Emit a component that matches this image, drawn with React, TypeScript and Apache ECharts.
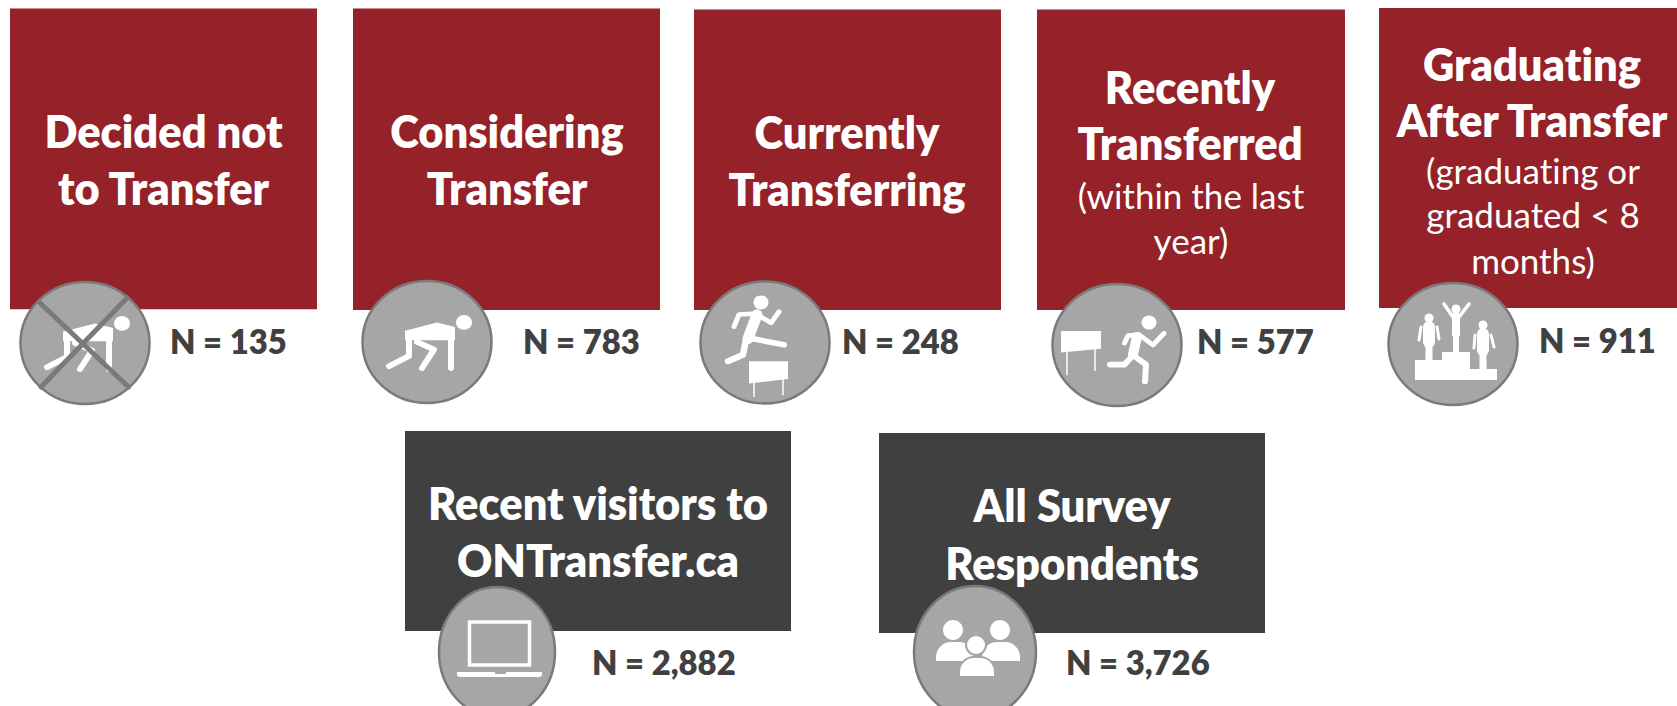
import React, { useEffect, useRef } from "react";
import * as echarts from "echarts";

// ---------- content ----------
const stageTitles: string[][] = [
  ["Decided not", "to Transfer"],
  ["Considering", "Transfer"],
  ["Currently", "Transferring"],
  ["Recently", "Transferred"],
  ["Graduating", "After Transfer"],
];
const stageNotes: string[][] = [[], [], [], ["(within the last", "year)"], ["(graduating or", "graduated < 8", "months)"]];
const stageCounts: string[] = ["N = 135", "N = 783", "N = 248", "N = 577", "N = 911"];
const groupTitles: string[][] = [
  ["Recent visitors to", "ONTransfer.ca"],
  ["All Survey", "Respondents"],
];
const groupCounts: string[] = ["N = 2,882", "N = 3,726"];

// ---------- layout ----------
const RED = "#952129";
const DARK = "#404040";
const CIRCLE = "#A6A6A6";
const RING = "#7A7A7A";
const FONT = "Lato";
const BOLD_SIZE = 45;
const NOTE_SIZE = 35;
const COUNT_SIZE = 34;
const SX_BOLD = 0.965;
const SX_NOTE = 1.0;

const stageBoxes = [
  { x: 10, y: 8.5, w: 307, h: 300.8 },
  { x: 353, y: 8.5, w: 307, h: 301.5 },
  { x: 694, y: 9.5, w: 307, h: 300.5 },
  { x: 1037, y: 9.5, w: 308, h: 300.5 },
  { x: 1379, y: 8, w: 298, h: 300 },
];
const stageCx = [163.6, 507, 847, 1190, 1532];
const titleYs = [
  [130.5, 187],
  [130.5, 187],
  [131, 188],
  [86, 142],
  [63, 119],
];
const noteYs = [[], [], [], [194.5, 240], [170, 214, 260]];
const discs = [
  { x: 85, y: 343, rx: 64.5, ry: 61 },
  { x: 427, y: 342, rx: 64.5, ry: 61 },
  { x: 765, y: 342.5, rx: 64.5, ry: 61 },
  { x: 1117, y: 345, rx: 64.5, ry: 61 },
  { x: 1453, y: 344, rx: 64.5, ry: 61 },
];
const iconScaleY = [0.933, 0.933, 0.933, 0.933, 1];
const countX = [170, 523, 842, 1197, 1539];
const countY = [341, 341, 341, 341, 340];

const groupBoxes = [
  { x: 405, y: 431, w: 386, h: 200 },
  { x: 879, y: 433, w: 386, h: 200 },
];
const groupCx = [598, 1072];
const groupYs = [
  [502, 559],
  [504, 562],
];
const ovals = [
  { x: 497, y: 652, rx: 58, ry: 65 },
  { x: 975, y: 652, rx: 61, ry: 66 },
];
const groupCountX = [592, 1066];
const groupCountY = [662, 662];

const W = "#FFFFFF";
const line = (points: number[][], lineWidth: number, stroke = W) => ({
  type: "polyline",
  shape: { points },
  style: { stroke, fill: "none", lineWidth, lineCap: "round", lineJoin: "round" },
});
const dot = (cx: number, cy: number, r: number) => ({ type: "circle", shape: { cx, cy, r }, style: { fill: W } });
const poly = (points: number[][]) => ({ type: "polygon", shape: { points }, style: { fill: W } });

const crouch = () => [
  dot(37, -21, 8),
  poly([[-22, -12], [10, -21], [28, -16], [28, -2], [-22, -2]]),
  line([[-18, -5], [-18, 15], [-38, 26]], 6),
  line([[-10, 0], [7, 8], [-5, 28]], 6),
  line([[24, -5], [24, 28]], 6),
];
const jumper = () => [
  dot(-4, -43, 7.5),
  line([[-8, -30], [-17, -4]], 11),
  line([[-31, -17], [-26, -30], [-8, -31]], 5),
  line([[-8, -30], [6, -21], [14, -33]], 5),
  line([[-17, -5], [19, 2.5]], 6),
  line([[-19, -3], [-22, 13], [-37, 20]], 6.5),
  poly([[-16, 20], [23, 20], [23, 39], [-16, 44]]),
  line([[-11, 44], [-11, 58]], 1.5),
  line([[18, 39], [18, 56]], 1.5),
];
const finisher = () => [
  poly([[-56, -15], [-16, -15], [-16, 4], [-56, 8]]),
  line([[-50, 8], [-50, 32]], 1.5),
  line([[-22, 4], [-22, 27]], 1.5),
  dot(32, -24, 7.5),
  line([[20, -9], [16, 10]], 10),
  line([[7.5, -2], [11, -10], [22, -11]], 5),
  line([[22, -11], [36, 0], [47, -12.5]], 5),
  line([[16, 11], [7.5, 21], [-7, 21]], 6),
  line([[16, 11], [29, 21], [28, 39]], 6),
];
const podium = () => [
  poly([[-38, 16], [-11, 16], [-11, 8], [17, 8], [17, 25], [44, 25], [44, 36], [-38, 36]]),
  dot(3, -35, 4.5),
  line([[-9, -40], [0, -27]], 3.5),
  line([[16, -40], [6, -27]], 3.5),
  line([[3, -28], [3, -10]], 8),
  line([[3, -10], [3, 8]], 6),
  dot(-24, -26, 4.5),
  line([[-24, -17], [-24, -2]], 12),
  line([[-32, -17], [-34, -4]], 3),
  line([[-16, -17], [-14, -5]], 3),
  line([[-24, -2], [-24, 16]], 7),
  dot(30, -19, 4.5),
  line([[30, -10], [30, 6]], 12),
  line([[22, -9], [21, 4]], 3),
  line([[38, -9], [41, 3]], 3),
  line([[30, 6], [30, 25]], 7),
];
const laptop = () => [
  { type: "rect", shape: { x: -27.5, y: -30, width: 60, height: 43 }, style: { fill: "none", stroke: W, lineWidth: 3.5 } },
  { type: "rect", shape: { x: -40, y: 20, width: 85, height: 5, r: [0, 0, 3, 3] }, style: { fill: W } },
  { type: "rect", shape: { x: -2, y: 20, width: 11, height: 2 }, style: { fill: CIRCLE } },
];
const people = () => [
  { type: "ellipse", shape: { cx: -22, cy: -22, rx: 10, ry: 10 }, style: { fill: W } },
  { type: "ellipse", shape: { cx: 25, cy: -22, rx: 10, ry: 10 }, style: { fill: W } },
  { type: "rect", shape: { x: -39, y: -10, width: 38, height: 19, r: [15, 15, 0, 0] }, style: { fill: W } },
  { type: "rect", shape: { x: 7, y: -10, width: 38, height: 19, r: [15, 15, 0, 0] }, style: { fill: W } },
  { type: "ellipse", shape: { cx: 1, cy: -7, rx: 10, ry: 10 }, style: { fill: W, stroke: CIRCLE, lineWidth: 2 } },
  { type: "rect", shape: { x: -16, y: 5, width: 36, height: 20, r: [15, 15, 0, 0] }, style: { fill: W, stroke: CIRCLE, lineWidth: 2 } },
];

const stageIcons = [crouch, crouch, jumper, finisher, podium];
const groupIcons = [laptop, people];

const label = (text: string, x: number, y: number, size: number, weight: string, fill: string, align = "center", sx = SX_BOLD) => ({
  type: "text",
  x,
  y,
  scaleX: sx,
  style: { text, x: 0, y: 0, fill, font: `${weight} ${size}px ${FONT}`, align, verticalAlign: "middle" },
});

function buildElements() {
  const out: any[] = [];
  stageBoxes.forEach((b, i) => {
    out.push({ type: "rect", shape: { x: b.x, y: b.y, width: b.w, height: b.h }, style: { fill: RED } });
    stageTitles[i].forEach((t, j) => out.push(label(t, stageCx[i], titleYs[i][j], BOLD_SIZE, "800", W)));
    stageNotes[i].forEach((t, j) => out.push(label(t, stageCx[i] + 1, noteYs[i][j], NOTE_SIZE, "normal", W, "center", SX_NOTE)));
    const d = discs[i];
    out.push({ type: "ellipse", shape: { cx: d.x, cy: d.y, rx: d.rx, ry: d.ry }, style: { fill: CIRCLE, stroke: RING, lineWidth: 2.5 } });
    out.push({ type: "group", x: d.x, y: d.y, scaleY: iconScaleY[i], children: stageIcons[i]() });
    if (i === 0) {
      out.push({ type: "group", x: d.x, y: d.y, children: [line([[-46, -41], [43.5, 44]], 5, RING), line([[42, -45], [-44, 44]], 5, RING)] });
    }
    out.push(label(stageCounts[i], countX[i], countY[i], COUNT_SIZE, "800", DARK, "left"));
  });
  groupBoxes.forEach((b, i) => {
    out.push({ type: "rect", shape: { x: b.x, y: b.y, width: b.w, height: b.h }, style: { fill: DARK } });
    groupTitles[i].forEach((t, j) => out.push(label(t, groupCx[i], groupYs[i][j], BOLD_SIZE, "800", W)));
    const o = ovals[i];
    out.push({ type: "ellipse", shape: { cx: o.x, cy: o.y, rx: o.rx, ry: o.ry }, style: { fill: CIRCLE, stroke: RING, lineWidth: 2.5 } });
    out.push({ type: "group", x: o.x, y: o.y, children: groupIcons[i]() });
    out.push(label(groupCounts[i], groupCountX[i], groupCountY[i], COUNT_SIZE, "800", DARK, "left"));
  });
  return out;
}

export default function App() {
  const ref = useRef<HTMLDivElement>(null);
  useEffect(() => {
    document.body.style.margin = "0";
    const chart = echarts.init(ref.current!, undefined, { renderer: "svg" });
    chart.setOption({
      animation: false,
      backgroundColor: "#FFFFFF",
      graphic: { elements: buildElements() },
    });
    return () => chart.dispose();
  }, []);
  return (
    <>
      <style>{`svg text { font-variant-ligatures: none !important; font-feature-settings: "liga" 0 !important; }`}</style>
      <div ref={ref} style={{ position: "fixed", left: 0, top: 0, width: 1677, height: 706, overflow: "hidden" }} />
    </>
  );
}
